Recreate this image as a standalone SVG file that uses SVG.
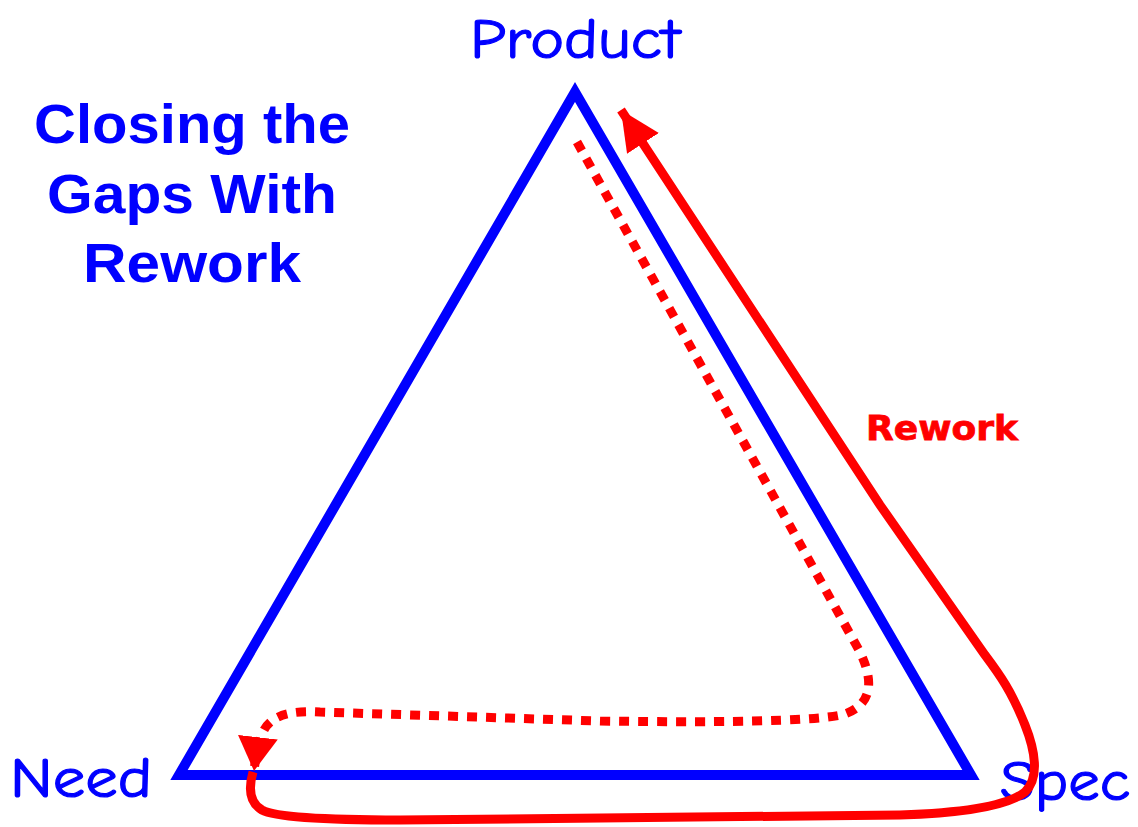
<svg xmlns="http://www.w3.org/2000/svg" width="1138" height="827" viewBox="0 0 1138 827">
<style>
.title{font-family:"Liberation Sans",Arial,sans-serif;font-weight:bold;font-size:56px;fill:#0000ff;text-anchor:middle}
.lbl{font-family:"Comic Sans MS","Comic Neue","DejaVu Sans",sans-serif;font-size:56px;fill:#0000ff;stroke:#0000ff;stroke-width:1.2}
.rw{font-family:"Comic Sans MS","DejaVu Sans",sans-serif;font-weight:bold;font-size:34px;fill:#ff0000;stroke:#ff0000;stroke-width:0.8}
.red{fill:none;stroke:#ff0000;stroke-width:9}
</style>
<defs>
<marker id="ah" markerUnits="userSpaceOnUse" markerWidth="40" markerHeight="40" refX="40" refY="19" orient="auto" viewBox="0 0 40 38">
<path d="M0,0 L40,19 L0,38 Z" fill="#ff0000"/>
</marker>
<marker id="ah2" markerUnits="userSpaceOnUse" markerWidth="34" markerHeight="40" refX="34" refY="20" orient="auto" viewBox="0 0 34 40">
<path d="M0,0 L34,20 L0,40 Z" fill="#ff0000"/>
</marker>
</defs>
<rect width="1138" height="827" fill="#fff"/>
<g id="title">
<text class="title" x="192" y="143" textLength="316" lengthAdjust="spacingAndGlyphs">Closing the</text>
<text class="title" x="192" y="213" textLength="290" lengthAdjust="spacingAndGlyphs">Gaps With</text>
<text class="title" x="192" y="282" textLength="218" lengthAdjust="spacingAndGlyphs">Rework</text>
</g>
<g id="triangle">
<path d="M575,92 L971,775 L179,775 Z" fill="none" stroke="#0000ff" stroke-width="10" stroke-linejoin="miter"/>
</g>
<g id="product"><text class="lbl" x="470" y="58" textLength="210" lengthAdjust="spacingAndGlyphs">Product</text></g>
<g id="need"><text class="lbl" x="10" y="797" textLength="142" lengthAdjust="spacingAndGlyphs">Need</text></g>
<g id="spec"><text class="lbl" x="1000" y="800" textLength="130" lengthAdjust="spacingAndGlyphs">Spec</text></g>
<g id="connectors">
<path class="red" stroke-dasharray="10,9" d="M577,142 L860,652 Q883,700 845,714 Q810,724 600,721 L320,712 Q275,709 264,730 Q257,745 254,771" marker-end="url(#ah2)"/>
<path class="red" d="M253,772 Q245,800 262,810 Q280,820 400,820 L900,815 Q1000,812 1025,792 C1040,778 1035,750 1025,725 C1012,692 1000,675 985,655 L880,505 L621,110" marker-end="url(#ah)"/>
<text class="rw" x="866" y="440" textLength="152" lengthAdjust="spacingAndGlyphs">Rework</text>
</g>
</svg>
